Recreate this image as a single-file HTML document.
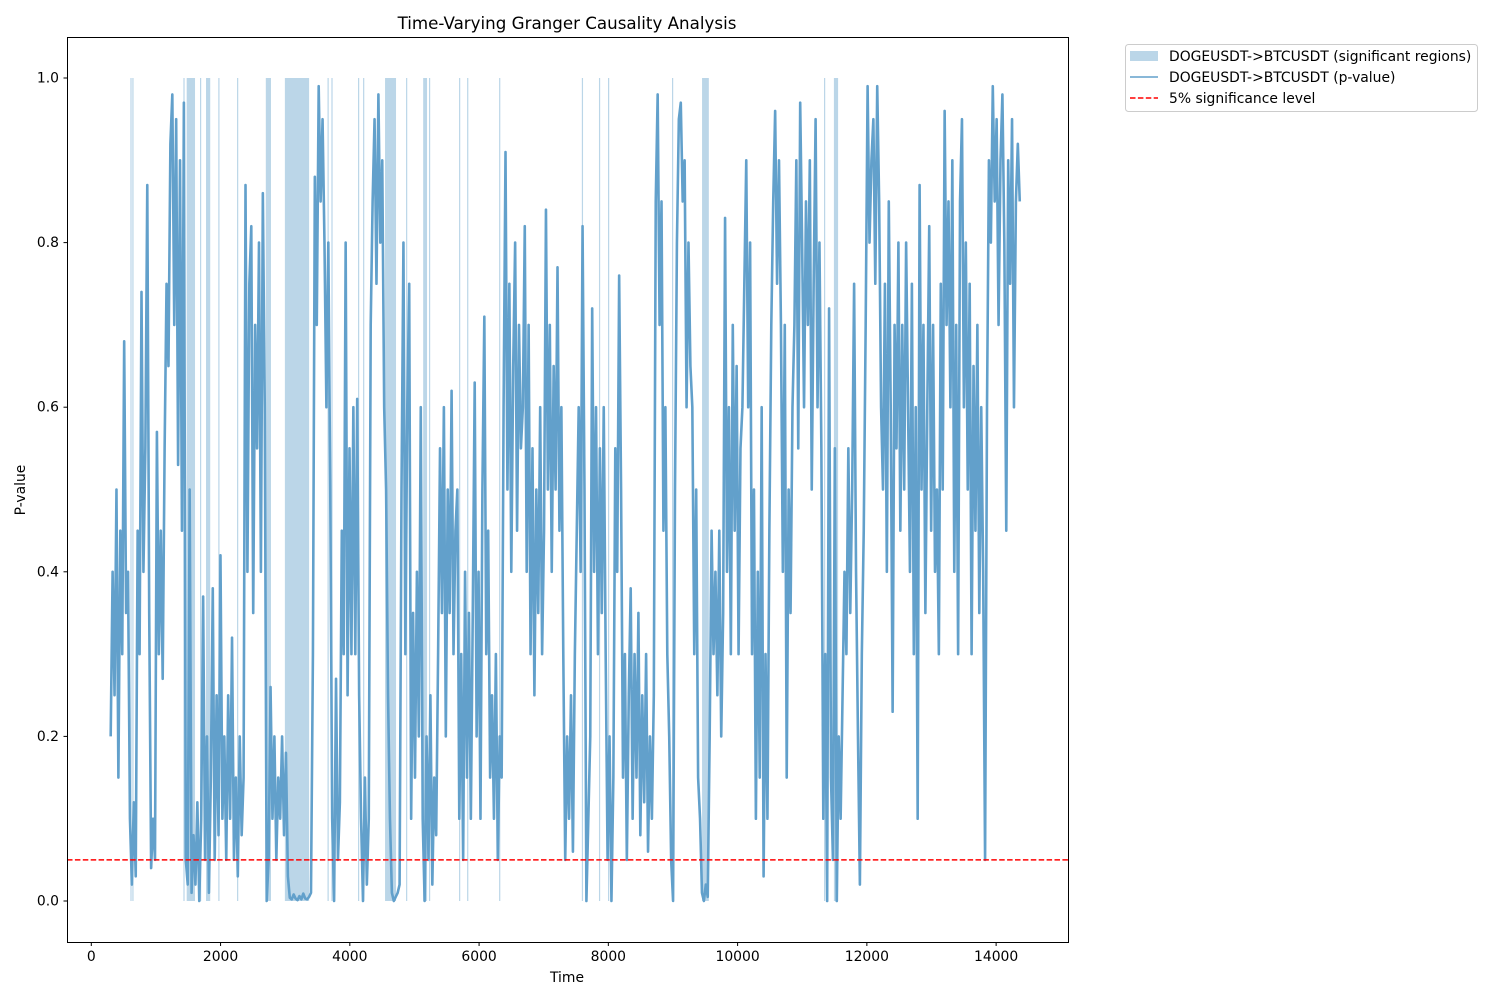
<!DOCTYPE html>
<html><head><meta charset="utf-8"><title>Time-Varying Granger Causality Analysis</title>
<style>
html,body{margin:0;padding:0;background:#fff;}
svg{display:block;font-family:"DejaVu Sans","Liberation Sans",sans-serif;}
</style></head>
<body>
<svg id="chart" width="1500" height="1000" viewBox="0 0 1500 1000">
<rect x="0" y="0" width="1500" height="1000" fill="#fff"/>
<text x="567" y="29" text-anchor="middle" font-size="16.7" fill="#000">Time-Varying Granger Causality Analysis</text>
<g id="shades"></g>
<g id="series"></g>
<g id="axes"></g>
<text x="567" y="982" text-anchor="middle" font-size="13.9">Time</text>
<text x="0" y="0" transform="translate(25,490) rotate(-90)" text-anchor="middle" font-size="13.9">P-value</text>
<g>
<rect x="1125.5" y="44.5" width="352" height="67" rx="3" fill="#fff" stroke="#ccc"/>
<rect x="1130" y="51" width="28" height="10" fill="#bbd6e8"/>
<text x="1169" y="61" font-size="13.9">DOGEUSDT-&gt;BTCUSDT (significant regions)</text>
<line x1="1130" y1="77" x2="1158" y2="77" stroke="#62a0cb" stroke-width="1.5"/>
<text x="1169" y="82" font-size="13.9">DOGEUSDT-&gt;BTCUSDT (p-value)</text>
<line x1="1130" y1="98" x2="1158" y2="98" stroke="#ff0000" stroke-width="1.5" stroke-dasharray="5.5,2.4"/>
<text x="1169" y="103" font-size="13.9">5% significance level</text>
</g>
</svg>
<script>
const startTime = 300;
const timeStep = 29.8;
const pValues = [
0.2,0.4,0.25, 0.5,0.15,0.45,0.3, 0.68,0.35,0.4, 0.1,0.02,0.12,0.03, 0.45,0.3,0.74,0.4, 0.55,0.87,0.35, 0.04,0.1,0.05,
0.57,0.3,0.45,0.27,0.55, 0.75,0.65,0.92,0.98,0.7,0.95,0.53,0.9,0.45,0.97, 0.05,0.02,0.5,0.01, 0.08,0.02,0.12,0.0,0.1,
0.37,0.05,0.2,0.01,0.15,0.38,0.05, 0.25,0.08,0.42,0.1, 0.2,0.05,0.25,0.1,0.32,0.05,0.15,0.03,0.2,0.08,0.15,
0.87,0.4,0.75,0.82,0.35,0.7,0.55,0.8,0.4,0.86,0.6, 0.0,0.05,0.26,0.1,0.2, 0.05,0.15,0.1,0.2,0.08,0.18,0.03,
0.004,0.002,0.008,0.003,0.001,0.006,0.002,0.009,0.003,0.002,0.005,0.01,
0.3,0.88,0.7,0.99,0.85,0.95, 0.8,0.6,0.8,0.5, 0.1,0.0,0.27,0.05,0.12, 0.45,0.3,0.8,0.25,0.55,0.3,0.6, 0.3,0.61,0.25,
0.1,0.0,0.15,0.02,0.1, 0.7,0.85,0.95,0.75,0.98,0.8,0.9,0.6, 0.5,0.25,0.1, 0.01,0.0,0.005,0.01,0.02,
0.5,0.8,0.3,0.6,0.75, 0.1,0.35,0.15,0.4,0.2,0.6, 0.1,0.0,0.2,0.05,0.25,0.02,0.15,0.08,
0.3,0.55,0.35,0.6,0.2,0.5,0.35,0.62,0.3,0.45, 0.5,0.1,0.3,0.05,0.4,0.15,0.35,0.1,
0.35,0.63,0.2,0.4,0.1,0.5,0.71,0.3,0.45,0.15, 0.25,0.1,0.3,0.05,0.2,0.15,
0.6,0.91,0.5,0.75,0.4,0.65,0.8,0.45,0.7,0.55,0.6,0.82,0.4,0.7, 0.3,0.55,0.25,0.5,0.35,0.6,0.3,0.45,
0.84,0.5,0.7,0.4,0.65,0.5,0.77,0.45,0.6, 0.3,0.05,0.2,0.1,0.25,0.06,0.3, 0.45,0.6,0.4,0.82,0.5, 0.0,0.1,0.2,
0.72,0.4,0.6,0.3,0.55,0.35,0.6, 0.3,0.05,0.2,0.0,0.15, 0.55,0.4,0.76,0.5,
0.15,0.3,0.05,0.25,0.38,0.1,0.3,0.15,0.35,0.08,0.25,0.12,0.3,0.06,0.2,0.1,0.25,
0.85,0.98,0.7,0.85, 0.45,0.6,0.3,0.2,0.05,0.0, 0.5,0.8,0.95,0.97,0.85,0.9,0.6,0.8,0.65, 0.6,0.3,0.5,0.15,0.1,
0.01,0.0,0.02,0.005, 0.2,0.45,0.3,0.4,0.25,0.45,0.2,0.35, 0.83,0.4,0.6,0.3,0.7,0.45,0.65,0.3,0.55,0.6,
0.75,0.9,0.6,0.8, 0.3,0.5,0.1,0.4,0.15,0.6,0.03,0.3,0.1,0.45, 0.7,0.85,0.96,0.75,0.9,0.7, 0.4,0.7,0.15,0.5,0.35,0.6,
0.7,0.9,0.55,0.97,0.8,0.6,0.85,0.7,0.9,0.5,0.75,0.95,0.6,0.8,0.55, 0.1,0.3,0.0,0.72,0.15,0.05,0.55,0.0,0.2,0.1,
0.25,0.4,0.3,0.55,0.35,0.5,0.75,0.4,0.2,0.02,0.3,0.45, 0.7,0.99,0.8,0.9,0.95,0.75,0.99,0.85,0.6,
0.5,0.75,0.4,0.85,0.6,0.23,0.7,0.55,0.8, 0.45,0.7,0.5,0.8,0.6,0.4,0.75,0.3,0.6,0.1,
0.87,0.5,0.7,0.35,0.6,0.82,0.45,0.7,0.4, 0.5,0.3,0.75,0.5,0.96,0.7,0.85,0.6,0.9,0.4, 0.7,0.3,0.85,0.95,0.6,0.8,
0.5,0.75,0.3,0.65,0.45,0.7,0.35,0.6,0.4,0.05,
0.6,0.9,0.8,0.99,0.85,0.95,0.7,0.9,0.98,0.8,0.45,0.9,0.75,0.95,0.6,0.85,0.92,0.85
];
const sigStarts = [605,635,1425,1476,1682,1775,1965,2255,2700,2995,3655,3715,4127,4205,4545,4870,5135,5225,5690,5815,6310,7590,7855,7995,8985,9450,11337,11490];
const sigEnds   = [620,650,1440,1605,1697,1840,1980,2270,2780,3370,3670,3730,4142,4220,4715,4885,5195,5240,5705,5830,6325,7605,7870,8010,9000,9555,11352,11555];
const xTicks = [0,2000,4000,6000,8000,10000,12000,14000];
const yTicks = [0.0,0.2,0.4,0.6,0.8,1.0];
const threshold = 0.05;

const NS = "http://www.w3.org/2000/svg";
const X0 = 67, X1 = 1068, Y0 = 37, Y1 = 942;
function xs(t){ return 91.3 + t * 0.06463; }
function ys(v){ return 901 - v * 823; }
function mk(tag, attrs, parent){
  const el = document.createElementNS(NS, tag);
  for (const k in attrs) el.setAttribute(k, attrs[k]);
  parent.appendChild(el);
  return el;
}
const shades = document.getElementById('shades');
for (let i = 0; i < sigStarts.length; i++){
  const r = mk('rect', {x: xs(sigStarts[i]), y: ys(1.0), width: Math.max(1.2, xs(sigEnds[i]) - xs(sigStarts[i])), height: ys(0) - ys(1.0), fill: '#bbd6e8'}, shades);
  
  
}
const series = document.getElementById('series');
let d = '';
for (let i = 0; i < pValues.length; i++){
  const t = startTime + i * timeStep;
  d += (i ? 'L' : 'M') + xs(t).toFixed(2) + ',' + ys(pValues[i]).toFixed(2);
}
const path = mk('path', {d: d, fill: 'none', stroke: '#62a0cb', 'stroke-width': 2.6, 'stroke-linejoin': 'round'}, series);


const th = mk('line', {x1: X0, x2: X1, y1: ys(threshold), y2: ys(threshold), stroke: '#ff0000', 'stroke-width': 1.5, 'stroke-dasharray': '5.5,2.4'}, series);



const axes = document.getElementById('axes');
const frame = mk('rect', {x: X0 + 0.5, y: Y0 + 0.5, width: X1 - X0, height: Y1 - Y0, fill: 'none', stroke: '#000', 'stroke-width': 1}, axes);


xTicks.forEach(function(t){
  const x = xs(t);
  const tk = mk('line', {x1: x, x2: x, y1: Y1 + 0.5, y2: Y1 + 4, stroke: '#000', 'stroke-width': 1}, axes);
  
  
  const lb = mk('text', {x: x, y: Y1 + 19, 'text-anchor': 'middle', 'font-size': 13.9}, axes);
  lb.textContent = String(t);
  
  
});
yTicks.forEach(function(v){
  const y = ys(v);
  const tk = mk('line', {x1: X0 - 3.5, x2: X0 + 0.5, y1: y, y2: y, stroke: '#000', 'stroke-width': 1}, axes);
  
  
  const lb = mk('text', {x: X0 - 8, y: y + 4.5, 'text-anchor': 'end', 'font-size': 13.9}, axes);
  lb.textContent = v.toFixed(1);
  
  
});
</script>
</body></html>
